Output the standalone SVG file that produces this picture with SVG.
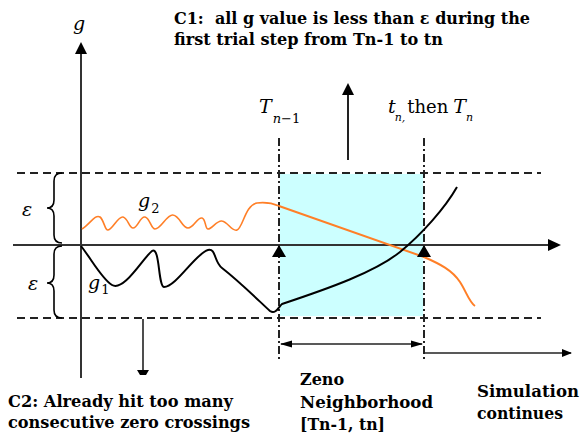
<svg xmlns="http://www.w3.org/2000/svg" width="583" height="434" viewBox="0 0 583 434">
<style>
.txt{font-family:'DejaVu Serif',serif;font-size:16px;font-weight:bold;fill:#000}
.math{font-family:'DejaVu Serif',serif;font-style:italic;font-size:19px;fill:#000}
.up{font-style:normal}
.sub{font-size:13px;font-style:normal}
.subi{font-size:11px;font-style:italic}
.dash{stroke:#222;stroke-width:2;stroke-dasharray:8 5;fill:none}
.dashdot{stroke:#222;stroke-width:2;stroke-dasharray:8 3 2 3;fill:none}
.axis{stroke:#333;stroke-width:2;fill:none}
.brace{stroke:#000;stroke-width:1.6;fill:none}
.head{fill:#000}
</style>
<defs>
<marker id="ah" markerWidth="10" markerHeight="8" refX="9" refY="4" orient="auto" markerUnits="userSpaceOnUse">
<path d="M0,0 L10,4 L0,8 Z" fill="#000"/>
</marker>
<marker id="ahs" markerWidth="12" markerHeight="8" refX="11" refY="4" orient="auto-start-reverse" markerUnits="userSpaceOnUse">
<path d="M0,0.5 L12,4 L0,7.5 Z" fill="#000"/>
</marker>
</defs>

<g id="zeno-region">
<rect x="280" y="174" width="143" height="142" fill="#ccffff"/>
</g>

<g id="epsilon-bands">
<line class="dash" x1="17" y1="173" x2="541" y2="173"/>
<line class="dash" x1="17" y1="318" x2="541" y2="318"/>
<line class="dashdot" x1="279" y1="138" x2="279" y2="360"/>
<line class="dashdot" x1="424" y1="138" x2="424" y2="360"/>
</g>

<g id="axes">
<line class="axis" x1="81" y1="50" x2="81" y2="378" stroke="#555"/>
<path class="head" d="M81,42 L75,54 L87,54 Z"/>
<line class="axis" x1="13" y1="245" x2="550" y2="245"/>
<path class="head" d="M561,245 L548,239 L548,251 Z"/>
<text class="math" x="73" y="30">g</text>
</g>

<g id="braces">
<path class="brace" d="M62,173 Q54,173 54,181 L54,200 Q54,208 47,208 Q54,208 54,216 L54,235 Q54,243 62,243"/>
<path class="brace" d="M62,246 Q54,246 54,254 L54,275 Q54,283 47,283 Q54,283 54,291 L54,310 Q54,318 62,318"/>
<text class="math" x="22" y="216" font-size="21">ε</text>
<text class="math" x="28" y="290" font-size="21">ε</text>
</g>

<g id="g2">
<path d="M82,229 C90,224 95,214 100,217 C104,220 105,231 108,230 C113,229 118,216 123,217 C128,218 129,228 133,228 C138,228 140,216 145,217 C150,218 151,229 155,229 C161,229 167,214 173,215 C180,216 182,228 188,228 C194,228 197,217 202,218 C206,219 205,229 208,229 C212,229 217,220 222,221 C228,222 232,232 237,230 C243,228 245,205 257,203 C265,202 272,203 279,206" fill="none" stroke="#ff7f27" stroke-width="1.6"/>
<path d="M279,206 L424,257 C440,264 452,270 460,282 C466,291 469,302 475,306" fill="none" stroke="#ff7f27" stroke-width="2"/>
<text class="math" x="138" y="207">g<tspan class="sub" font-size="16" dx="1" dy="6">2</tspan></text>
</g>

<g id="g1">
<path d="M81,246 C92,260 102,279 112,285 C124,292 143,258 152,251 C160,246 158,286 164,287 C176,287 196,253 208,250 C216,248 214,262 222,268 C240,282 258,300 270,311 C276,315 279,306 282,304 C330,288 375,272 400,252 C422,234 445,208 457,187" fill="none" stroke="#000" stroke-width="2"/>
<text class="math" x="88" y="289">g<tspan class="sub" font-size="16" dx="1" dy="5">1</tspan></text>
</g>

<g id="crossings">
<path class="head" d="M279,245 L272,257 L286,257 Z"/>
<path class="head" d="M424,245 L417,257 L431,257 Z"/>
</g>

<g id="label-Tn-1">
<text class="math" x="259" y="113">T<tspan class="sub" dx="1" dy="10"><tspan font-style="italic">n</tspan>−1</tspan></text>
</g>
<g id="label-tn">
<text class="math" x="388" y="113">t<tspan class="subi" dx="-1" dy="8">n,</tspan><tspan class="up" font-size="18" dx="2" dy="-8">then</tspan><tspan dx="5">T</tspan><tspan class="subi" dx="0" dy="8">n</tspan></text>
</g>

<g id="C1">
<line x1="348" y1="160" x2="348" y2="94" stroke="#222" stroke-width="2"/>
<path class="head" d="M348,83 L342,95 L354,95 Z"/>
<text class="txt" x="174" y="24" textLength="356" lengthAdjust="spacingAndGlyphs" style="white-space:pre">C1:  all g value is less than ε during the</text>
<text class="txt" x="174" y="45" textLength="269" lengthAdjust="spacingAndGlyphs">first trial step from Tn-1 to tn</text>
</g>

<g id="C2">
<line x1="143" y1="319" x2="143" y2="371" stroke="#222" stroke-width="1.6"/>
<path class="head" d="M137,370 L149,370 L146,375 L140,375 Z"/>
<text class="txt" x="8" y="407" textLength="225" lengthAdjust="spacingAndGlyphs">C2: Already hit too many</text>
<text class="txt" x="8" y="428" textLength="242" lengthAdjust="spacingAndGlyphs">consecutive zero crossings</text>
</g>

<g id="connectors">
<line x1="281" y1="344" x2="422" y2="344" stroke="#222" stroke-width="1.6" marker-start="url(#ahs)" marker-end="url(#ahs)"/>
<line x1="425" y1="353" x2="571" y2="353" stroke="#222" stroke-width="1.6" marker-end="url(#ah)"/>
</g>

<g id="zeno-label">
<text class="txt" x="300" y="385">Zeno</text>
<text class="txt" x="300" y="408" textLength="133" lengthAdjust="spacingAndGlyphs">Neighborhood</text>
<text class="txt" x="300" y="430" textLength="85" lengthAdjust="spacingAndGlyphs">[Tn-1, tn]</text>
</g>

<g id="sim-label">
<text class="txt" x="477" y="397" textLength="102" lengthAdjust="spacingAndGlyphs">Simulation</text>
<text class="txt" x="477" y="419" textLength="86" lengthAdjust="spacingAndGlyphs">continues</text>
</g>
</svg>
